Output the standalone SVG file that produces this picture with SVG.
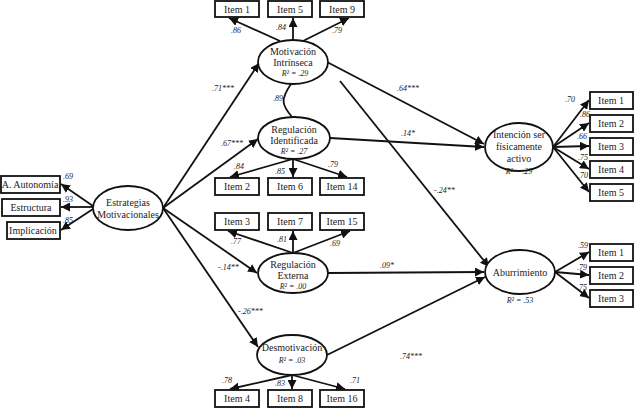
<svg xmlns="http://www.w3.org/2000/svg" width="634" height="410" viewBox="0 0 634 410">
<defs>
<marker id="a" viewBox="0 0 10 10" refX="10" refY="5" markerWidth="5" markerHeight="5" orient="auto-start-reverse" markerUnits="userSpaceOnUse"><path d="M0,0L10,5L0,10z" fill="#111"/></marker>
<marker id="b" viewBox="0 0 10 10" refX="10" refY="5" markerWidth="9" markerHeight="9" orient="auto" markerUnits="userSpaceOnUse"><path d="M0,0L10,5L0,10z" fill="#111"/></marker>
</defs>
<style>
text{font-family:"Liberation Serif",serif;fill:#222}
.n{font-size:10px;text-anchor:middle}
.c{font-size:8px;font-style:italic}
.r{font-size:8px;font-style:italic;text-anchor:middle}
rect{fill:#fff;stroke:#111;stroke-width:1.8}
ellipse{fill:#fff;stroke:#111;stroke-width:1.8}
.e line,.e path{stroke:#111;stroke-width:1.8;fill:none;marker-end:url(#b)}
</style>
<rect width="634" height="410" fill="#fff" style="stroke:none"/>
<g class="e" id="connectors">
<line x1="280" y1="41" x2="229" y2="18"/>
<line x1="293" y1="40" x2="293" y2="18"/>
<line x1="303" y1="41" x2="349" y2="18"/>
<line x1="293" y1="159" x2="230" y2="177"/>
<line x1="293" y1="159" x2="293" y2="177"/>
<line x1="293" y1="159" x2="347" y2="177"/>
<line x1="293" y1="253" x2="228" y2="231"/>
<line x1="293" y1="253" x2="293" y2="231"/>
<line x1="293" y1="253" x2="350" y2="231"/>
<line x1="292" y1="375" x2="230" y2="389"/>
<line x1="292" y1="375" x2="292" y2="389"/>
<line x1="292" y1="375" x2="345" y2="389"/>
<line x1="93" y1="206" x2="61" y2="184"/>
<line x1="93" y1="207" x2="61" y2="207"/>
<line x1="93" y1="209" x2="61" y2="230"/>
<line x1="163" y1="208" x2="259" y2="63"/>
<line x1="163" y1="208" x2="258" y2="139"/>
<line x1="163" y1="208" x2="257" y2="273"/>
<line x1="163" y1="208" x2="258" y2="347"/>
<line x1="327" y1="62" x2="484" y2="144"/>
<line x1="330" y1="138" x2="484" y2="147"/>
<line x1="340" y1="81" x2="489" y2="267"/>
<line x1="328" y1="273" x2="484" y2="272"/>
<line x1="327" y1="355" x2="485" y2="277"/>
<line x1="553" y1="147" x2="589" y2="100"/>
<line x1="553" y1="147" x2="589" y2="123"/>
<line x1="553" y1="147" x2="589" y2="146"/>
<line x1="553" y1="147" x2="589" y2="169"/>
<line x1="553" y1="147" x2="589" y2="192"/>
<line x1="555" y1="272" x2="589" y2="252"/>
<line x1="555" y1="272" x2="589" y2="275"/>
<line x1="555" y1="272" x2="589" y2="298"/>
<path d="M291,84 C280,100 282,105 292,117" style="marker-end:none"/>
</g>
<g id="labels">
<text class="c" x="231" y="33">.86</text><text class="c" x="276" y="30">.84</text><text class="c" x="332" y="33">.79</text>
<text class="c" x="212" y="91">.71***</text><text class="c" x="273" y="101">.89</text>
<text class="c" x="221" y="146">.67***</text>
<text class="c" x="234" y="169">.84</text><text class="c" x="275" y="174">.85</text><text class="c" x="328" y="167">.79</text>
<text class="c" x="231" y="244">.77</text><text class="c" x="277" y="242">.81</text><text class="c" x="330" y="246">.69</text>
<text class="c" x="218" y="270">-.14**</text><text class="c" x="238" y="314">-.26***</text>
<text class="c" x="222" y="383">.78</text><text class="c" x="275" y="386">.83</text><text class="c" x="350" y="383">.71</text>
<text class="c" x="63" y="179">.69</text><text class="c" x="63" y="202">.93</text><text class="c" x="63" y="223">.85</text>
<text class="c" x="397" y="91">.64***</text><text class="c" x="401" y="136">.14*</text>
<text class="c" x="434" y="193">-.24**</text><text class="c" x="380" y="268">.09*</text><text class="c" x="400" y="359">.74***</text>
<text class="c" x="565" y="102">.70</text><text class="c" x="580" y="117">.86</text><text class="c" x="577" y="139">.66</text><text class="c" x="578" y="160">.75</text><text class="c" x="578" y="178">.70</text>
<text class="c" x="578" y="248">.59</text><text class="c" x="577" y="270">.79</text><text class="c" x="577" y="290">.75</text>
</g>
<g id="items">
<rect x="215" y="1" width="44" height="16"/><text class="n" x="237" y="13">Item 1</text>
<rect x="268" y="1" width="44" height="16"/><text class="n" x="290" y="13">Item 5</text>
<rect x="320" y="1" width="44" height="16"/><text class="n" x="342" y="13">Item 9</text>
<rect x="215" y="178" width="44" height="17"/><text class="n" x="237" y="190">Item 2</text>
<rect x="268" y="178" width="44" height="17"/><text class="n" x="290" y="190">Item 6</text>
<rect x="320" y="178" width="44" height="17"/><text class="n" x="342" y="190">Item 14</text>
<rect x="215" y="213" width="44" height="17"/><text class="n" x="237" y="225">Item 3</text>
<rect x="268" y="213" width="44" height="17"/><text class="n" x="290" y="225">Item 7</text>
<rect x="320" y="213" width="44" height="17"/><text class="n" x="342" y="225">Item 15</text>
<rect x="215" y="390" width="44" height="17"/><text class="n" x="237" y="402">Item 4</text>
<rect x="268" y="390" width="44" height="17"/><text class="n" x="290" y="402">Item 8</text>
<rect x="320" y="390" width="44" height="17"/><text class="n" x="342" y="402">Item 16</text>
<rect x="1" y="176" width="59" height="17"/><text class="n" x="30" y="188">A. Autonomía</text>
<rect x="2" y="199" width="58" height="17"/><text class="n" x="31" y="211">Estructura</text>
<rect x="7" y="222" width="53" height="17"/><text class="n" x="33" y="234">Implicación</text>
<rect x="590" y="92" width="43" height="17"/><text class="n" x="611" y="104">Item 1</text>
<rect x="590" y="115" width="43" height="17"/><text class="n" x="611" y="127">Item 2</text>
<rect x="590" y="138" width="43" height="17"/><text class="n" x="611" y="150">Item 3</text>
<rect x="590" y="161" width="43" height="17"/><text class="n" x="611" y="173">Item 4</text>
<rect x="590" y="184" width="43" height="17"/><text class="n" x="611" y="196">Item 5</text>
<rect x="590" y="244" width="43" height="17"/><text class="n" x="611" y="256">Item 1</text>
<rect x="590" y="267" width="43" height="17"/><text class="n" x="611" y="279">Item 2</text>
<rect x="590" y="290" width="43" height="17"/><text class="n" x="611" y="302">Item 3</text>
</g>
<g id="estrategias"><ellipse cx="128" cy="208" rx="35" ry="22"/><text class="n" x="128" y="206">Estrategias</text><text class="n" x="128" y="218">Motivacionales</text></g>
<g id="mi"><ellipse cx="293" cy="62" rx="35" ry="22"/><text class="n" x="293" y="55">Motivación</text><text class="n" x="293" y="66">Intrínseca</text><text class="r" x="295" y="76">R² = .29</text></g>
<g id="ri"><ellipse cx="294" cy="138" rx="36" ry="21"/><text class="n" x="294" y="133">Regulación</text><text class="n" x="294" y="144">Identificada</text><text class="r" x="294" y="154">R² = .27</text></g>
<g id="re"><ellipse cx="293" cy="273" rx="35" ry="20"/><text class="n" x="293" y="268">Regulación</text><text class="n" x="293" y="279">Externa</text><text class="r" x="293" y="289">R² = .00</text></g>
<g id="de"><ellipse cx="292" cy="355" rx="35" ry="20"/><text class="n" x="292" y="351">Desmotivación</text><text class="r" x="292" y="363">R² = .03</text></g>
<g id="in"><ellipse cx="519" cy="147" rx="34" ry="24"/><text class="n" x="519" y="138">Intención ser</text><text class="n" x="519" y="150">físicamente</text><text class="n" x="519" y="162">activo</text><text class="r" x="519" y="174">R² = .29</text></g>
<g id="ab"><ellipse cx="520" cy="272" rx="35" ry="22"/><text class="n" x="520" y="276">Aburrimiento</text><text class="r" x="520" y="303">R² = .53</text></g>
</svg>
